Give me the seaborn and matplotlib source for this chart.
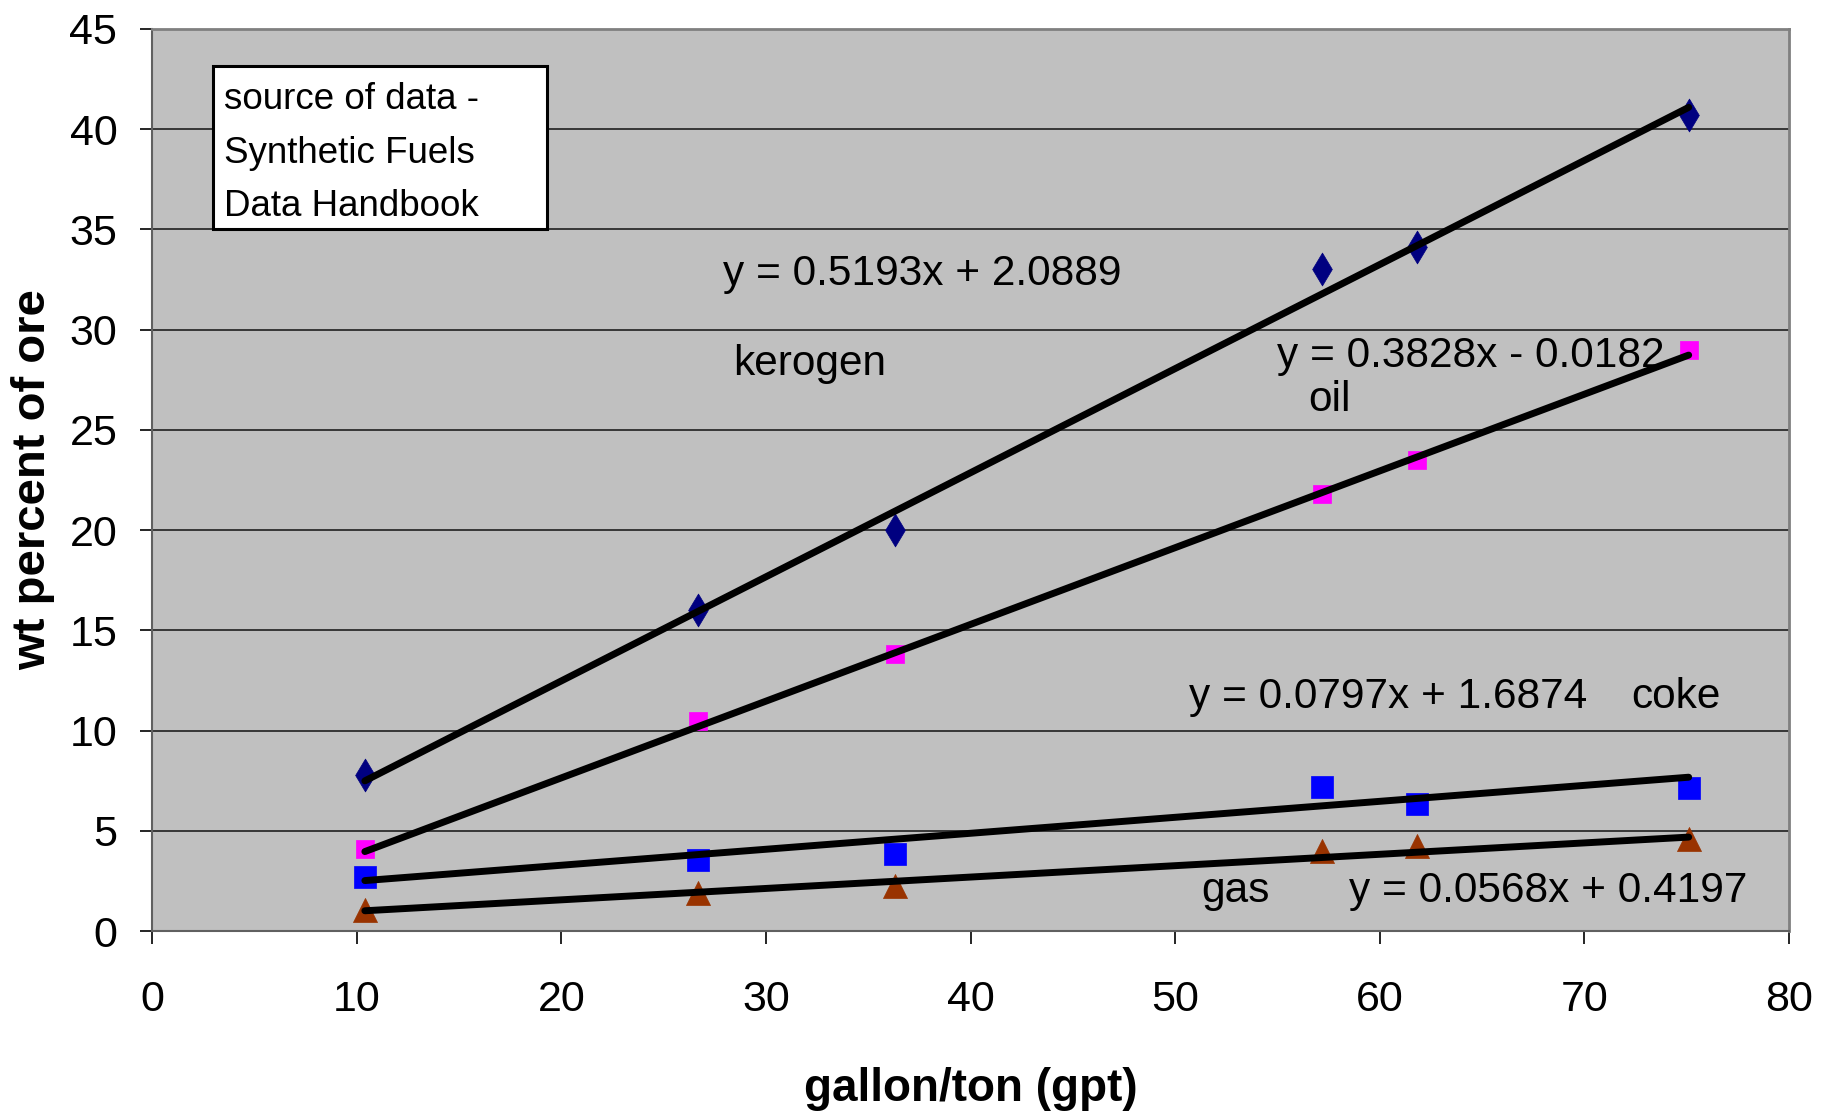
import matplotlib
matplotlib.use('Agg')
import matplotlib.pyplot as plt
import seaborn as sns
import numpy as np
import pandas as pd
from matplotlib.patches import Rectangle

# gallon/ton of ore
gpt = [10.4, 26.7, 36.3, 57.2, 61.8, 75.1]

# wt percent of ore
kerogen = [7.8, 16.0, 20.0, 33.0, 34.1, 40.7]
oil = [4.1, 10.5, 13.8, 21.8, 23.5, 29.0]
coke = [2.7, 3.55, 3.85, 7.2, 6.35, 7.15]
gas = [1.05, 1.9, 2.25, 4.0, 4.25, 4.6]

# trendline coefficients as printed on the chart
slopes = [0.5193, 0.3828, 0.0797, 0.0568]
intercepts = [2.0889, -0.0182, 1.6874, 0.4197]
series_names = ['kerogen', 'oil', 'coke', 'gas']

sns.set_theme(style='ticks')
plt.rcParams['font.family'] = ['Liberation Sans Narrow', 'Liberation Sans', 'DejaVu Sans']
for key in ['text.color', 'axes.labelcolor', 'xtick.color', 'ytick.color']:
    plt.rcParams[key] = 'black'

fig = plt.figure(figsize=(18.32, 11.13), dpi=100)
ax = fig.add_axes([0.083, 0.1635, 0.8935, 0.8105])
ax.set_facecolor('#C0C0C0')

df = pd.DataFrame({'gpt': gpt * 4,
                   'wt': kerogen + oil + coke + gas,
                   'series': np.repeat(series_names, len(gpt))})

styles = {
    'kerogen': dict(marker='d', color='#000080', s=280),
    'oil': dict(marker='s', color='#FF00FF', s=160),
    'coke': dict(marker='s', color='#0000FF', s=250),
    'gas': dict(marker='^', color='#993300', s=300),
}

# trendlines
for name, m, b in zip(series_names, slopes, intercepts):
    xs = np.array([min(gpt), max(gpt)])
    sns.lineplot(x=xs, y=m * xs + b, ax=ax, color='black', lw=5, zorder=3)

for name in series_names:
    sub = df[df['series'] == name]
    st = styles[name]
    sns.scatterplot(data=sub, x='gpt', y='wt', ax=ax, marker=st['marker'],
                    color=st['color'], s=st['s'], edgecolor=st['color'],
                    linewidth=0.5, zorder=2)

ax.set_xlim(0, 80)
ax.set_ylim(0, 45)
ax.set_xticks(range(0, 81, 10))
ax.set_yticks(range(0, 46, 5))
ax.grid(axis='y', color='#202020', lw=1.2)
ax.grid(axis='x', visible=False)
ax.set_axisbelow(True)

for side in ['left', 'bottom']:
    ax.spines[side].set_color('#606060')
    ax.spines[side].set_linewidth(1.5)
for side in ['top', 'right']:
    ax.spines[side].set_color('#808080')
    ax.spines[side].set_linewidth(2)

ax.tick_params(axis='both', labelsize=31, length=9, width=1.2, color='black')
ax.tick_params(axis='x', pad=26)
ax.tick_params(axis='y', pad=16)

ax.set_xlabel('gallon/ton (gpt)', fontsize=33, fontweight='bold', labelpad=34)
ax.set_ylabel('wt percent of ore', fontsize=34, fontweight='bold', labelpad=10)

txt = dict(fontsize=30.5, va='center', ha='left')
ax.text(27.9, 32.8, 'y = 0.5193x + 2.0889', **txt)
ax.text(28.4, 28.3, 'kerogen', **txt)
ax.text(55.0, 28.7, 'y = 0.3828x - 0.0182', **txt)
ax.text(56.5, 26.5, 'oil', **txt)
ax.text(50.7, 11.65, 'y = 0.0797x + 1.6874', **txt)
ax.text(72.3, 11.65, 'coke', **txt)
ax.text(51.3, 1.98, 'gas', **txt)
ax.text(58.5, 1.98, 'y = 0.0568x + 0.4197', **txt)

# source box
ax.add_patch(Rectangle((0.0371, 0.7785), 0.2042, 0.18, transform=ax.transAxes,
                       facecolor='white', edgecolor='black', linewidth=2.2,
                       zorder=4))
ax.text(0.0442, 0.941, 'source of data -\nSynthetic Fuels\nData Handbook',
        transform=ax.transAxes, fontsize=26.5, va='top', ha='left',
        linespacing=1.68, zorder=5)

fig.savefig('out.png', dpi=100)
